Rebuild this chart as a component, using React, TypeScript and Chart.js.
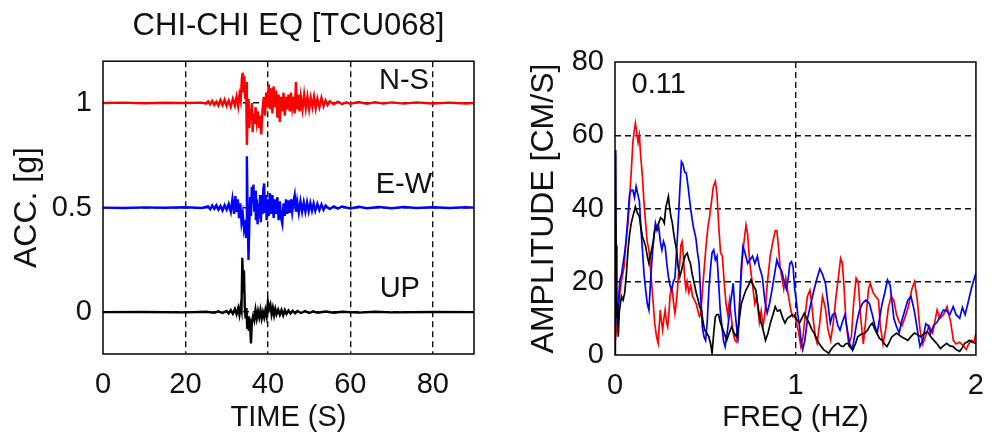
import React, { useEffect, useRef } from "react";
import { Chart, registerables } from "chart.js";

Chart.register(...registerables);

const FONT = "'Liberation Sans', Arial, Helvetica, sans-serif";
const TEXT = "#111";

// ---------------- Time histories (acceleration, g) ----------------
const NS_OFFSET = 1;
const EW_OFFSET = 0.5;
const UP_OFFSET = 0;

const nsTime = [0, 5, 10, 15, 20, 24, 25, 25.5, 26, 26.5, 27, 27.5, 28, 28.5, 29, 29.5, 30, 30.5, 31, 31.5, 32, 32.4, 32.8, 33.1, 33.4, 33.7, 33.9, 34.1, 34.3, 34.5, 34.7, 34.9, 35.1, 35.3, 35.5, 35.7, 35.9, 36.1, 36.3, 36.5, 36.8, 37.0, 37.3, 37.6, 37.9, 38.1, 38.4, 38.7, 39.0, 39.3, 39.6, 39.9, 40.2, 40.5, 40.8, 41.1, 41.4, 41.7, 42.0, 42.3, 42.6, 42.9, 43.2, 43.5, 43.8, 44.1, 44.4, 44.7, 45.0, 45.3, 45.6, 45.9, 46.2, 46.5, 46.8, 47.1, 47.4, 47.7, 48.0, 48.4, 48.8, 49.2, 49.6, 50, 50.4, 50.8, 51.2, 51.6, 52, 52.5, 53, 53.5, 54, 54.5, 55, 56, 57, 58, 59, 60, 62, 64, 66, 68, 70, 73, 76, 80, 84, 88, 90];
const nsAcc = [0, 0.002, -0.001, 0.001, 0, 0.002, -0.003, 0.008, -0.006, 0.01, -0.009, 0.006, -0.012, 0.014, -0.01, 0.016, -0.014, 0.012, -0.018, 0.02, -0.012, 0.03, -0.015, 0.04, 0.01, 0.12, 0.145, 0.05, 0.13, 0.02, 0.1, -0.2, -0.05, 0.02, -0.12, -0.03, -0.08, 0.0, -0.14, -0.05, -0.1, -0.02, -0.09, -0.04, -0.12, -0.06, -0.15, -0.03, 0.03, -0.06, 0.05, -0.02, 0.09, -0.03, 0.07, -0.05, 0.08, -0.02, 0.06, -0.07, 0.04, -0.09, 0.03, -0.04, 0.05, -0.06, 0.03, -0.03, 0.04, -0.04, 0.05, -0.02, 0.03, -0.05, 0.1, -0.03, 0.04, -0.04, 0.03, -0.03, 0.04, -0.025, 0.03, -0.03, 0.025, -0.02, 0.03, -0.025, 0.02, -0.02, 0.025, -0.015, 0.012, -0.01, 0.008, -0.006, 0.007, -0.005, 0.004, -0.004, 0.005, -0.004, 0.004, -0.003, 0.003, -0.003, 0.003, -0.002, 0.002, -0.002, 0];

const ewTime = [0, 5, 10, 15, 20, 24, 25.5, 26, 26.5, 27, 27.5, 28, 28.5, 29, 29.5, 30, 30.5, 31, 31.4, 31.8, 32.1, 32.4, 32.7, 33, 33.3, 33.6, 33.9, 34.2, 34.5, 34.7, 34.9, 35.1, 35.3, 35.5, 35.7, 35.9, 36.1, 36.3, 36.5, 36.7, 36.9, 37.1, 37.3, 37.5, 37.7, 37.9, 38.1, 38.3, 38.5, 38.7, 38.9, 39.1, 39.3, 39.5, 39.7, 39.9, 40.2, 40.5, 40.8, 41.1, 41.4, 41.7, 42, 42.3, 42.6, 42.9, 43.2, 43.5, 43.8, 44.1, 44.4, 44.7, 45, 45.3, 45.6, 45.9, 46.2, 46.5, 46.8, 47.1, 47.5, 47.9, 48.3, 48.7, 49.1, 49.5, 49.9, 50.3, 50.7, 51.1, 51.5, 52, 52.5, 53, 53.5, 54, 55, 56, 57, 58, 60, 62, 64, 67, 70, 73, 76, 80, 84, 88, 90];
const ewAcc = [0, -0.002, 0.001, -0.001, 0.002, -0.002, 0.006, -0.008, 0.01, -0.006, 0.012, -0.01, 0.008, -0.014, 0.012, -0.01, 0.018, -0.02, 0.04, -0.03, 0.055, -0.02, 0.04, -0.05, 0.02, -0.07, -0.03, -0.1, -0.06, -0.14, 0.245, -0.05, -0.25, -0.08, 0.05, -0.04, 0.1, 0.02, 0.11, -0.02, 0.08, -0.06, 0.04, -0.08, 0.02, -0.05, 0.06, -0.07, 0.05, -0.03, 0.09, 0.115, -0.02, 0.06, -0.06, 0.04, -0.04, 0.07, -0.03, 0.06, -0.05, 0.04, -0.03, 0.05, -0.06, 0.03, -0.05, -0.078, 0.02, -0.04, 0.04, -0.03, 0.035, -0.025, 0.04, -0.02, 0.03, 0.06, -0.02, 0.03, -0.025, 0.03, -0.02, 0.025, -0.02, 0.025, -0.018, 0.022, -0.015, 0.02, -0.015, 0.018, -0.012, 0.015, -0.01, 0.01, -0.007, 0.006, -0.005, 0.005, -0.004, 0.004, -0.003, 0.003, -0.003, 0.003, -0.002, 0.002, -0.002, 0.002, 0];

const upTime = [0, 10, 20, 25, 27, 28, 29, 30, 30.5, 31, 31.5, 32, 32.4, 32.8, 33.1, 33.4, 33.6, 33.8, 34.0, 34.2, 34.4, 34.6, 34.8, 35.0, 35.2, 35.4, 35.6, 35.9, 36.1, 36.4, 36.7, 37, 37.3, 37.6, 37.9, 38.2, 38.5, 38.8, 39.1, 39.4, 39.7, 40.0, 40.3, 40.6, 40.9, 41.2, 41.5, 41.8, 42.1, 42.5, 42.9, 43.3, 43.7, 44.1, 44.5, 45, 45.5, 46, 46.6, 47.2, 48, 49, 50, 51, 52, 54, 56, 58, 62, 66, 70, 80, 90];
const upAcc = [0, 0.001, -0.001, 0.002, -0.003, 0.004, -0.004, 0.006, -0.006, 0.01, -0.008, 0.015, -0.01, 0.02, -0.012, 0.03, 0.01, 0.26, 0.1, 0.2, 0.02, -0.03, 0.02, -0.08, -0.02, -0.09, -0.03, -0.15, -0.05, -0.02, -0.04, 0.01, -0.03, 0.005, -0.025, 0.01, -0.03, 0.0, -0.025, 0.01, -0.02, 0.05, 0.015, 0.035, -0.01, 0.02, -0.015, 0.015, -0.01, 0.012, -0.012, 0.01, -0.015, 0.01, -0.008, 0.008, -0.006, 0.007, -0.005, 0.006, -0.004, 0.005, -0.004, 0.004, -0.003, 0.003, -0.003, 0.002, -0.002, 0.002, -0.001, 0.001, 0];

const timeTicks = [0, 20, 40, 60, 80];
const accTicks = [0, 0.5, 1];

// ---------------- Fourier amplitude spectra (cm/s) ----------------
const nsFreq = [0, 0.01, 0.02, 0.035, 0.05, 0.063, 0.072, 0.081, 0.09, 0.099, 0.106, 0.113, 0.12, 0.128, 0.135, 0.143, 0.152, 0.16, 0.17, 0.178, 0.188, 0.196, 0.203, 0.212, 0.22, 0.23, 0.239, 0.245, 0.251, 0.258, 0.264, 0.271, 0.278, 0.285, 0.292, 0.298, 0.305, 0.311, 0.317, 0.325, 0.332, 0.339, 0.346, 0.352, 0.359, 0.365, 0.372, 0.379, 0.386, 0.393, 0.4, 0.41, 0.42, 0.43, 0.44, 0.45, 0.46, 0.468, 0.475, 0.485, 0.495, 0.505, 0.515, 0.525, 0.535, 0.545, 0.556, 0.565, 0.575, 0.585, 0.595, 0.605, 0.615, 0.625, 0.635, 0.645, 0.655, 0.665, 0.675, 0.685, 0.695, 0.705, 0.715, 0.726, 0.735, 0.745, 0.755, 0.765, 0.775, 0.785, 0.8, 0.81, 0.82, 0.83, 0.845, 0.86, 0.875, 0.888, 0.897, 0.905, 0.915, 0.925, 0.935, 0.946, 0.955, 0.965, 0.975, 0.985, 0.995, 1.005, 1.018, 1.03, 1.042, 1.054, 1.066, 1.08, 1.09, 1.1, 1.11, 1.12, 1.135, 1.15, 1.165, 1.18, 1.195, 1.21, 1.225, 1.24, 1.25, 1.26, 1.27, 1.28, 1.295, 1.31, 1.322, 1.336, 1.348, 1.36, 1.376, 1.39, 1.405, 1.415, 1.43, 1.445, 1.46, 1.47, 1.485, 1.5, 1.515, 1.53, 1.545, 1.56, 1.575, 1.59, 1.605, 1.625, 1.645, 1.66, 1.675, 1.69, 1.705, 1.72, 1.74, 1.76, 1.785, 1.8, 1.82, 1.84, 1.86, 1.875, 1.89, 1.91, 1.93, 1.946, 1.96, 1.975, 1.99, 2.0];
const nsAmp = [3, 8, 14, 20, 24, 32, 36, 43, 50, 58, 61, 63.3, 61, 58, 60, 54, 48.7, 42, 36, 31, 28.7, 24, 19.6, 14, 8.7, 5, 3.2, 8, 12.3, 9, 6.8, 10, 12.3, 9, 7.7, 11, 16, 18, 17.8, 14, 11.4, 14, 17.8, 22, 25, 30, 31, 27, 21, 18, 20, 17, 19, 16, 15, 14, 12, 10.5, 11, 18, 24, 30, 35, 38, 42, 46, 47.4, 44, 35, 28, 27, 20, 14, 11, 15, 10, 6, 4, 3.5, 8, 18, 26, 31, 35.5, 33, 26, 22, 18, 14, 16, 9, 12, 8, 11, 20, 27, 31, 34, 34, 30, 24, 21, 18, 21, 18, 15, 12, 10.5, 11, 9, 6, 2.3, 5, 11, 16, 17.7, 14, 9, 5, 3.2, 9, 16, 13, 7, 4, 9, 16, 22, 26.4, 25, 18, 9, 3, 5, 14, 21, 20, 11, 3, 10, 18, 19.6, 17, 16, 15, 8, 3, 7, 13, 16, 15, 11, 9, 8, 10, 13, 18, 20, 15, 7, 3, 5, 8, 6, 12.3, 10, 11, 13.2, 9, 4, 3, 3.5, 2.5, 1.5, 3, 4, 3.5, 6];

const ewFreq = [0, 0.004, 0.008, 0.014, 0.02, 0.027, 0.036, 0.045, 0.054, 0.063, 0.072, 0.081, 0.09, 0.099, 0.108, 0.117, 0.126, 0.135, 0.143, 0.152, 0.161, 0.17, 0.179, 0.188, 0.197, 0.206, 0.215, 0.224, 0.233, 0.242, 0.251, 0.26, 0.269, 0.278, 0.287, 0.296, 0.305, 0.314, 0.323, 0.332, 0.341, 0.35, 0.359, 0.368, 0.377, 0.386, 0.395, 0.405, 0.42, 0.434, 0.448, 0.457, 0.466, 0.475, 0.484, 0.493, 0.502, 0.511, 0.52, 0.53, 0.538, 0.547, 0.556, 0.565, 0.574, 0.583, 0.592, 0.601, 0.61, 0.619, 0.628, 0.64, 0.655, 0.665, 0.675, 0.682, 0.69, 0.7, 0.709, 0.72, 0.735, 0.748, 0.762, 0.775, 0.789, 0.8, 0.816, 0.83, 0.843, 0.856, 0.87, 0.884, 0.897, 0.91, 0.924, 0.937, 0.95, 0.96, 0.969, 0.978, 0.987, 0.996, 1.004, 1.013, 1.022, 1.031, 1.04, 1.052, 1.067, 1.085, 1.103, 1.12, 1.135, 1.15, 1.166, 1.18, 1.193, 1.205, 1.22, 1.235, 1.247, 1.26, 1.274, 1.287, 1.3, 1.315, 1.327, 1.34, 1.354, 1.37, 1.39, 1.41, 1.426, 1.44, 1.453, 1.466, 1.48, 1.495, 1.51, 1.525, 1.534, 1.545, 1.56, 1.575, 1.587, 1.605, 1.623, 1.64, 1.659, 1.675, 1.69, 1.705, 1.722, 1.735, 1.749, 1.765, 1.785, 1.8, 1.82, 1.838, 1.855, 1.874, 1.89, 1.91, 1.925, 1.94, 1.955, 1.973, 1.985, 2.0];
const ewAmp = [56, 40, 12, 8, 15, 20.5, 22, 25, 28, 32, 38, 44, 45, 45, 43, 46, 44, 42, 35, 28.7, 22, 17.8, 14, 12.3, 20, 26.9, 32, 36, 34, 35, 31, 28.7, 31, 29.6, 25, 21.4, 19, 17.8, 20, 21, 28, 36, 45, 52.8, 52, 50, 49.7, 46, 39.6, 35, 32, 28, 25, 16, 7.7, 5, 4, 9, 17.8, 24, 28, 28.7, 26, 27, 20, 12.3, 8, 4, 2.3, 5, 8.7, 14, 19.6, 12, 7, 5, 14, 24, 29.6, 28, 25, 26, 27, 25, 27, 24, 21.4, 15, 11.4, 14, 17.8, 22, 26, 24, 23, 20, 18, 21, 25, 25.5, 24, 18, 15, 11, 8, 4, 1.5, 4, 10, 14, 17.8, 21, 23.5, 22, 19.6, 14, 8.7, 11, 11.4, 8, 6.8, 9, 11, 7, 3.2, 1.4, 5, 9, 12, 14, 15, 14, 11, 8, 6, 10, 14, 17, 20.5, 19, 15, 10, 7.7, 6, 9, 12, 15, 16, 12, 7, 2.3, 4, 8.5, 8, 6, 8, 9, 10.5, 12.3, 12, 11, 13.2, 11, 10, 13, 11, 14, 17.8, 20, 22.3];

const upFreq = [0, 0.002, 0.006, 0.01, 0.014, 0.018, 0.024, 0.03, 0.036, 0.045, 0.054, 0.063, 0.072, 0.081, 0.09, 0.1, 0.113, 0.122, 0.135, 0.143, 0.152, 0.161, 0.17, 0.179, 0.188, 0.196, 0.203, 0.212, 0.22, 0.231, 0.242, 0.253, 0.264, 0.273, 0.282, 0.29, 0.296, 0.303, 0.31, 0.318, 0.323, 0.332, 0.341, 0.35, 0.359, 0.368, 0.377, 0.388, 0.4, 0.41, 0.418, 0.428, 0.439, 0.45, 0.461, 0.47, 0.479, 0.488, 0.497, 0.508, 0.52, 0.53, 0.538, 0.547, 0.556, 0.565, 0.574, 0.583, 0.592, 0.605, 0.619, 0.633, 0.646, 0.66, 0.673, 0.687, 0.7, 0.713, 0.726, 0.74, 0.753, 0.766, 0.78, 0.79, 0.798, 0.808, 0.816, 0.825, 0.834, 0.848, 0.861, 0.875, 0.888, 0.9, 0.915, 0.93, 0.942, 0.955, 0.969, 0.982, 0.996, 1.01, 1.022, 1.035, 1.049, 1.062, 1.076, 1.09, 1.103, 1.118, 1.13, 1.145, 1.157, 1.17, 1.184, 1.197, 1.21, 1.225, 1.238, 1.25, 1.265, 1.278, 1.29, 1.305, 1.318, 1.332, 1.345, 1.36, 1.372, 1.386, 1.4, 1.413, 1.426, 1.44, 1.453, 1.466, 1.48, 1.494, 1.507, 1.52, 1.534, 1.548, 1.56, 1.573, 1.587, 1.605, 1.623, 1.64, 1.659, 1.677, 1.695, 1.713, 1.731, 1.75, 1.767, 1.785, 1.803, 1.82, 1.838, 1.856, 1.874, 1.89, 1.91, 1.925, 1.937, 1.95, 1.964, 1.98, 2.0];
const upAmp = [0, 55, 30, 10, 14, 5, 12, 14, 16, 15, 17, 22, 28.7, 33, 36, 38, 40.5, 39, 37.8, 35, 32.3, 31, 29.6, 27, 25, 27, 28.7, 31, 34, 35, 36, 37.5, 37, 36, 40.5, 42, 43.3, 40, 37.8, 36, 34, 31, 28.7, 24, 21.4, 23, 25, 27, 27.8, 26, 25, 22, 19.6, 17, 15, 13, 12.3, 9, 6.8, 6, 5, 3, 0.5, 6, 10.5, 11, 11, 9, 7.7, 6, 4, 6, 7.7, 6, 5, 9, 14, 16, 17.8, 19, 20.5, 19, 17.8, 14, 11.4, 9, 7.7, 6, 4, 6, 8.7, 11, 13.2, 12, 12.3, 10, 8.7, 10, 10.5, 11, 10.5, 9.5, 8.7, 10, 11.4, 10, 8.7, 7, 6, 4.5, 3.2, 2.2, 1.4, 1, 0.5, 1.5, 2.3, 3, 3.2, 2.5, 2.3, 3, 3.2, 2, 1.4, 3, 5, 5.5, 5.8, 6, 6.8, 8, 8.7, 7, 5.8, 4.5, 4, 3, 2.3, 3.5, 5, 5.5, 6, 5.5, 5, 4.5, 4, 5, 6, 5.5, 5, 5.8, 6.4, 5, 4, 3, 1.8, 2.5, 3.2, 2.5, 2.3, 1.5, 1, 2, 3.2, 3.5, 4, 3.5, 3.2];

const freqTicks = [0, 1, 2];
const ampTicks = [0, 20, 40, 60, 80];

// ---------------- helpers ----------------
const pairs = (xs: number[], ys: number[], offset = 0) =>
  xs.map((x, i) => ({ x, y: ys[i] + offset }));

const framePlugin = (notes: { text: string; x: number; y: number }[]) => ({
  id: "frameAndNotes",
  afterDraw(chart: any) {
    const { ctx, chartArea, scales } = chart;
    ctx.save();
    ctx.strokeStyle = "#000";
    ctx.lineWidth = 1.5;
    ctx.strokeRect(
      chartArea.left,
      chartArea.top,
      chartArea.right - chartArea.left,
      chartArea.bottom - chartArea.top
    );
    ctx.font = `29px ${FONT}`;
    ctx.fillStyle = TEXT;
    ctx.textAlign = "center";
    ctx.textBaseline = "middle";
    notes.forEach((n) => {
      ctx.fillText(n.text, scales.x.getPixelForValue(n.x), scales.y.getPixelForValue(n.y));
    });
    ctx.restore();
  },
});

const gridColor = (edges: number[]) => (c: any) =>
  c.tick && edges.includes(c.tick.value) ? "rgba(0,0,0,0)" : "#111";

function axis(opts: {
  min: number;
  max: number;
  ticks: number[];
  edges: number[];
  title: string;
  titleSize: number;
  titlePad: any;
  tickPad: number;
  fitW?: number;
  fitH?: number;
}) {
  return {
    type: "linear",
    min: opts.min,
    max: opts.max,
    z: 1,
    afterBuildTicks: (s: any) => {
      s.ticks = opts.ticks.map((v) => ({ value: v }));
    },
    afterFit: (s: any) => {
      if (opts.fitW !== undefined) s.width = opts.fitW;
      if (opts.fitH !== undefined) s.height = opts.fitH;
    },
    ticks: {
      color: TEXT,
      font: { family: FONT, size: 29 },
      padding: opts.tickPad,
      maxRotation: 0,
      autoSkip: false,
      callback: (v: any) => String(v),
    },
    grid: { color: gridColor(opts.edges), lineWidth: 1.4, drawTicks: false },
    border: { display: false, dash: [6, 4] },
    title: {
      display: true,
      text: opts.title,
      color: TEXT,
      font: { family: FONT, size: opts.titleSize },
      padding: opts.titlePad,
    },
  };
}

function useChart(ref: React.RefObject<HTMLCanvasElement>, make: () => any) {
  useEffect(() => {
    if (!ref.current) return;
    const chart = new Chart(ref.current, make());
    return () => chart.destroy();
  }, []);
}

export default function App() {
  const leftRef = useRef<HTMLCanvasElement>(null);
  const rightRef = useRef<HTMLCanvasElement>(null);

  useChart(leftRef, () => ({
    type: "line",
    data: {
      datasets: [
        { data: pairs(upTime, upAcc, UP_OFFSET), borderColor: "#000000" },
        { data: pairs(ewTime, ewAcc, EW_OFFSET), borderColor: "#0000ff" },
        { data: pairs(nsTime, nsAcc, NS_OFFSET), borderColor: "#ff0000" },
      ].map((d) => ({ ...d, borderWidth: 2.4, pointRadius: 0, tension: 0, fill: false })),
    },
    options: {
      animation: false,
      responsive: false,
      events: [],
      layout: { padding: { left: 0, right: 26, top: 0, bottom: 0 } },
      plugins: {
        legend: { display: false },
        tooltip: { enabled: false },
        title: {
          display: true,
          fullSize: false,
          text: "CHI-CHI EQ [TCU068]",
          color: TEXT,
          font: { family: FONT, size: 31, weight: "normal" },
          padding: { top: 8, bottom: 16 },
        },
      },
      scales: {
        x: axis({ min: 0, max: 90, ticks: timeTicks, edges: [0, 90], title: "TIME (S)", titleSize: 29, titlePad: { top: 0, bottom: 7 }, tickPad: 14, fitH: 88 }),
        y: axis({ min: -0.2, max: 1.2, ticks: accTicks, edges: [], title: "ACC. [g]", titleSize: 32, titlePad: { top: 8, bottom: 0 }, tickPad: 11, fitW: 103 }),
      },
    },
    plugins: [
      framePlugin([
        { text: "N-S", x: 73, y: 1.105 },
        { text: "E-W", x: 73, y: 0.61 },
        { text: "UP", x: 72, y: 0.11 },
      ]),
    ],
  }));

  useChart(rightRef, () => ({
    type: "line",
    data: {
      datasets: [
        { data: pairs(upFreq, upAmp), borderColor: "#000000" },
        { data: pairs(ewFreq, ewAmp), borderColor: "#0000ff" },
        { data: pairs(nsFreq, nsAmp), borderColor: "#ff0000" },
      ].map((d) => ({ ...d, borderWidth: 1.7, pointRadius: 0, tension: 0, fill: false })),
    },
    options: {
      animation: false,
      responsive: false,
      events: [],
      layout: { padding: { left: 0, right: 11, top: 62, bottom: 0 } },
      plugins: { legend: { display: false }, tooltip: { enabled: false }, title: { display: false } },
      scales: {
        x: axis({ min: 0, max: 2, ticks: freqTicks, edges: [0, 2], title: "FREQ (HZ)", titleSize: 29, titlePad: { top: 0, bottom: 7 }, tickPad: 14, fitH: 87 }),
        y: axis({ min: 0, max: 80, ticks: ampTicks, edges: [0, 80], title: "AMPLITUDE [CM/S]", titleSize: 32, titlePad: { top: 25, bottom: 0 }, tickPad: 11, fitW: 115 }),
      },
    },
    plugins: [framePlugin([{ text: "0.11", x: 0.242, y: 73.8 }])],
  }));

  return (
    <div style={{ position: "absolute", left: 0, top: 0, width: 998, height: 442, background: "#fff" }}>
      <canvas ref={leftRef} width={500} height={442} style={{ position: "absolute", left: 0, top: 0, width: 500, height: 442 }} />
      <canvas ref={rightRef} width={498} height={442} style={{ position: "absolute", left: 500, top: 0, width: 498, height: 442 }} />
    </div>
  );
}
